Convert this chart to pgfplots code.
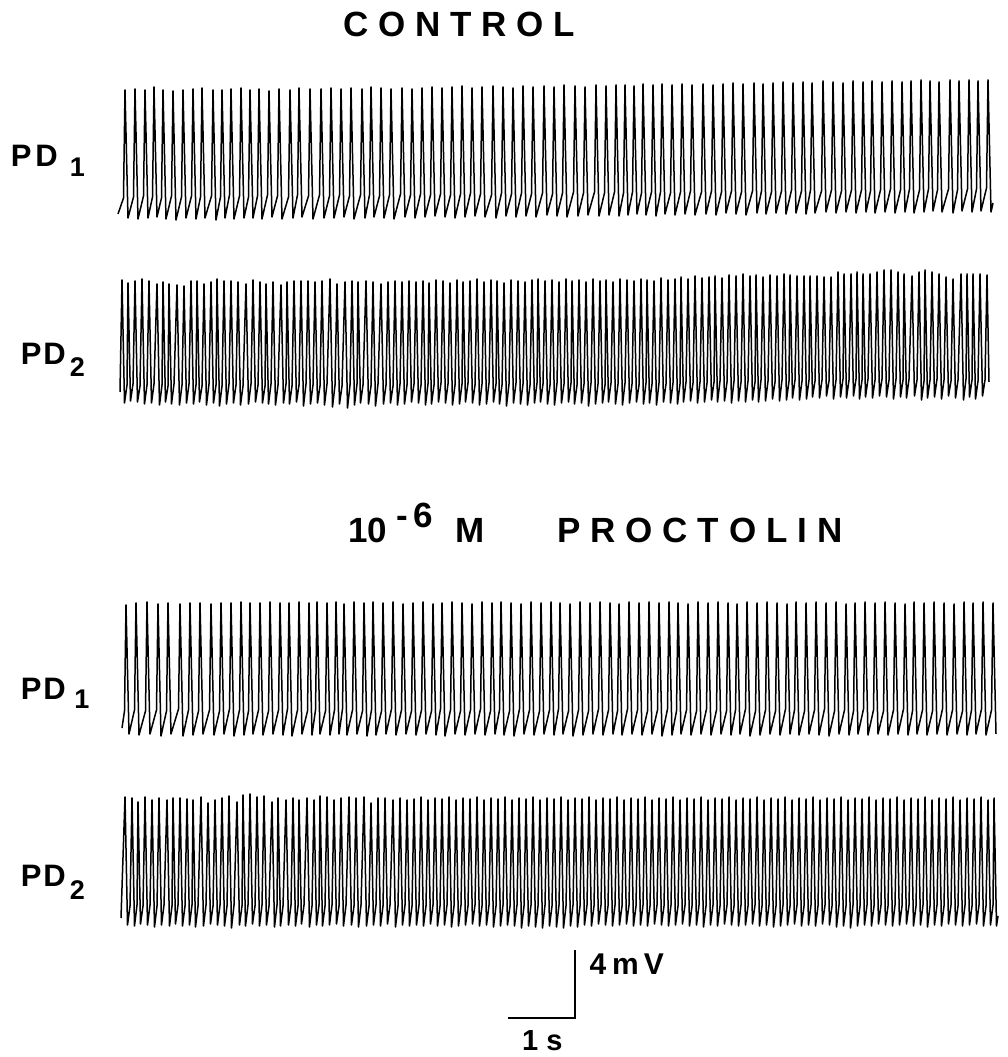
\documentclass[border=0pt]{standalone}
\usepackage{fontspec}
\setmainfont{Liberation Sans}
\usepackage{pgfplots}
\pgfplotsset{compat=1.18}

\newcommand{\lab}{\bfseries}
\newcommand{\lbl}{\lab\fontsize{35}{40}\selectfont}
\newcommand{\ls}{\hspace{9.8pt}}
\newcommand{\lp}{\hspace{9.9pt}}
% #1 subscript, #2 gap P-D, #3 gap D-subscript, #4 drop of subscript
\newcommand{\pdlabel}[4]{\lab\fontsize{31}{36}\selectfont P\hspace{#2}D\hspace{#3}\raisebox{-#4}{\fontsize{27}{30}\selectfont #1}}

\pgfplotsset{trace/.style={black, line width=1.5pt, line join=round, mark=none}}

\begin{document}
\begin{tikzpicture}
\begin{axis}[
    x=1pt, y=1pt,
    xmin=0, xmax=1007, ymin=0, ymax=1057,
    enlargelimits=false,
    hide axis, clip=false, scale only axis,
]
\path (axis cs:0,0) rectangle (axis cs:1007,1057);

% control, PD1  (x in px, y in px above trough level)
\addplot[trace, y filter/.expression={y+840}] coordinates {
(118,3)
(123.5,19)(125,127)(128,-1) (133.5,20)(135,128)(138,-2) (143.5,21)(145,127)(148,-1)
(152.5,20)(154,130)(157,0) (161.5,19)(163,127)(166,-2) (171.5,21)(173,126)(176,-3)
(181.5,20)(183,127)(186,-1) (191.5,21)(193,128)(196,-2) (200.5,20)(202,129)(205,-1)
(211.5,21)(213,127)(216,-3) (220.5,20)(222,127)(225,-1) (229.5,22)(231,128)(234,-2)
(239.5,21)(241,129)(244,-1) (248.5,20)(250,127)(253,-1) (257.5,21)(259,128)(262,-2)
(267.5,22)(269,126)(272,0) (277.5,21)(279,128)(282,-2) (288.5,20)(290,127)(293,-1)
(297.5,22)(299,129)(302,0) (308.5,21)(310,128)(313,-2) (319.5,22)(321,128)(324,-1)
(329.5,21)(331,129)(334,-1) (339.5,22)(341,128)(344,0) (349.5,21)(351,129)(354,-2)
(360.5,22)(362,128)(365,-1) (369.5,22)(371,130)(374,0) (379.5,21)(381,129)(384,-1)
(389.5,22)(391,128)(394,-2) (400.5,23)(402,129)(405,0) (410.5,22)(412,128)(415,-1)
(420.5,23)(422,129)(425,0) (430.5,22)(432,130)(435,1) (440.5,23)(442,129)(445,0)
(450.5,22)(452,130)(455,-1) (460.5,23)(462,131)(465,0) (470.5,24)(472,129)(475,1)
(480.5,23)(482,130)(485,0) (491.5,22)(493,131)(496,-1) (501.5,24)(503,130)(506,1)
(511.5,23)(513,129)(516,0) (521.5,24)(523,131)(526,1) (531.5,23)(533,130)(536,0)
(542.5,24)(544,131)(547,2) (552.5,23)(554,130)(557,1) (562.5,24)(564,132)(567,0)
(573.5,25)(575,131)(578,1) (583.5,24)(585,130)(588,2) (594.5,25)(596,132)(599,1)
(604.5,24)(606,131)(609,2) (614.5,25)(616,132)(619,1) (623.5,24)(625,132)(628,2)
(632.5,25)(634,131)(637,3) (641.5,24)(643,133)(646,2) (651.5,25)(653,132)(656,1)
(660.5,25)(662,133)(665,3) (670.5,24)(672,132)(675,2) (680.5,25)(682,133)(685,3)
(690.5,26)(692,132)(695,2) (701.5,25)(703,133)(706,3) (711.5,26)(713,132)(716,2)
(721.5,25)(723,133)(726,4) (731.5,26)(733,134)(736,3) (741.5,25)(743,133)(746,2)
(752.5,26)(754,134)(757,4) (761.5,26)(763,133)(766,3) (771.5,25)(773,134)(776,4)
(781.5,26)(783,135)(786,3) (791.5,27)(793,134)(796,4) (801.5,26)(803,135)(806,3)
(810.5,27)(812,134)(815,4) (821.5,26)(823,136)(826,5) (831.5,27)(833,135)(836,4)
(841.5,26)(843,134)(846,5) (851.5,27)(853,136)(856,4) (861.5,27)(863,135)(866,5)
(870.5,26)(872,136)(875,4) (880.5,27)(882,135)(885,5) (890.5,28)(892,136)(895,4)
(900.5,27)(902,135)(905,5) (909.5,28)(911,136)(914,4) (919.5,27)(921,137)(924,5)
(928.5,28)(930,136)(933,6) (937.5,27)(939,135)(942,5) (948.5,28)(950,137)(953,4)
(957.5,27)(959,136)(962,6) (967.5,28)(969,137)(972,5) (976.5,28)(978,136)(981,6)
(986.5,29)(988,137)(991,5) (993,14)
};

% control, PD2
\addplot[trace, y filter/.expression={y+655}] coordinates {
(120,10)
(122,122)(124.5,-1)(127,17) (128,119)(130.5,1)(133,18) (135,121)(137.5,0)(140,16)
(142,123)(144.5,-2)(147,17) (149,121)(151.5,-1)(154,18) (157,118)(159.5,-3)(162,17)
(163,120)(165.5,0)(168,16) (169,118)(171.5,-2)(174,18) (177,117)(179.5,-3)(182,17)
(184,116)(186.5,-1)(189,18) (191,121)(193.5,-2)(196,17) (197,121)(199.5,0)(202,16)
(204,118)(206.5,-3)(209,18) (211,120)(213.5,-1)(216,17) (217,123)(219.5,-4)(222,16)
(224,121)(226.5,-2)(229,18) (231,121)(233.5,-1)(236,17) (238,120)(240.5,-3)(243,16)
(246,118)(248.5,-2)(251,18) (253,122)(255.5,0)(258,17) (260,120)(262.5,-1)(265,16)
(266,118)(268.5,-2)(271,18) (273,120)(275.5,-3)(278,17) (281,117)(283.5,-1)(286,18)
(287,120)(289.5,-2)(292,16) (294,121)(296.5,0)(299,17) (301,121)(303.5,-4)(306,18)
(308,121)(310.5,-2)(313,17) (315,120)(317.5,-1)(320,16) (322,121)(324.5,-3)(327,18)
(330,123)(332.5,-5)(335,17) (337,118)(339.5,-2)(342,16) (345,120)(347.5,-6)(350,17)
(352,121)(354.5,-3)(357,18) (358,120)(360.5,-1)(363,17) (366,121)(368.5,-2)(371,16)
(373,120)(375.5,-4)(378,18) (381,118)(383.5,-2)(386,17) (388,120)(390.5,-1)(393,16)
(395,121)(397.5,-3)(400,18) (402,120)(404.5,-2)(407,17) (409,121)(411.5,0)(414,18)
(416,120)(418.5,-1)(421,17) (423,121)(425.5,-3)(428,18) (429,119)(431.5,-2)(434,17)
(436,122)(438.5,0)(441,19) (443,121)(445.5,-1)(448,18) (450,119)(452.5,-3)(455,17)
(457,122)(459.5,-2)(462,18) (463,120)(465.5,0)(468,19) (470,121)(472.5,-1)(475,17)
(477,123)(479.5,-3)(482,18) (484,120)(486.5,-2)(489,19) (491,122)(493.5,0)(496,18)
(497,121)(499.5,-2)(502,17) (504,119)(506.5,-4)(509,18) (511,122)(513.5,-1)(516,19)
(518,121)(520.5,-2)(523,18) (525,120)(527.5,-3)(530,17) (532,122)(534.5,-1)(537,19)
(538,123)(540.5,0)(543,18) (545,121)(547.5,-2)(550,17) (552,122)(554.5,-3)(557,19)
(559,120)(561.5,-1)(564,18) (566,123)(568.5,0)(571,19) (572,121)(574.5,-2)(577,17)
(579,122)(581.5,-1)(584,18) (586,120)(588.5,-4)(591,19) (593,123)(595.5,-2)(598,18)
(600,121)(602.5,-1)(605,17) (606,122)(608.5,0)(611,19) (613,120)(615.5,-2)(618,18)
(620,123)(622.5,-3)(625,19) (627,122)(629.5,-1)(632,18) (634,121)(636.5,0)(639,17)
(641,123)(643.5,-2)(646,19) (647,122)(649.5,-1)(652,18) (654,121)(656.5,-3)(659,19)
(661,124)(663.5,0)(666,18) (668,122)(670.5,-1)(673,19) (675,123)(677.5,-2)(680,18)
(681,125)(683.5,0)(686,20) (688,123)(690.5,1)(693,19) (695,126)(697.5,-1)(700,20)
(702,124)(704.5,0)(707,19) (709,125)(711.5,2)(714,20) (715,126)(717.5,0)(720,21)
(722,124)(724.5,1)(727,20) (729,127)(731.5,-1)(734,21) (736,126)(738.5,1)(741,20)
(743,128)(745.5,0)(748,21) (750,126)(752.5,2)(755,20) (756,127)(758.5,0)(761,22)
(763,125)(765.5,1)(768,21) (770,127)(772.5,3)(775,20) (777,126)(779.5,1)(782,22)
(784,128)(786.5,2)(789,21) (790,127)(792.5,4)(795,22) (797,126)(799.5,2)(802,21)
(804,126)(806.5,3)(809,22) (810,126)(812.5,5)(815,21) (817,126)(819.5,4)(822,22)
(824,125)(826.5,6)(829,21) (831,125)(833.5,3)(836,22) (838,130)(840.5,5)(843,23)
(844,128)(846.5,4)(849,22) (851,128)(853.5,6)(856,23) (857,130)(859.5,3)(862,22)
(863,128)(865.5,5)(868,23) (870,128)(872.5,4)(875,22) (877,130)(879.5,6)(882,23)
(884,132)(886.5,5)(889,22) (891,132)(893.5,3)(896,23) (898,130)(900.5,5)(903,22)
(904,128)(906.5,4)(909,23) (912,126)(914.5,6)(917,22) (919,130)(921.5,2)(924,21)
(925,132)(927.5,4)(930,22) (932,130)(934.5,5)(937,23) (939,128)(941.5,3)(944,22)
(946,125)(948.5,6)(951,21) (953,123)(955.5,4)(958,22) (961,128)(963.5,2)(966,23)
(967,128)(969.5,5)(972,22) (973,128)(975.5,3)(978,21) (980,128)(982.5,6)(985,22)
(987,127)(989,20)
};

% proctolin, PD1
\addplot[trace, y filter/.expression={y+324}] coordinates {
(122,5)
(124.5,22)(126,128)(129,-1) (134.5,23)(136,130)(139,-2) (145.5,22)(147,131)(150,-1)
(156.5,23)(158,129)(161,-3) (166.5,22)(168,130)(171,-1) (178.5,24)(180,129)(183,-3)
(188.5,23)(190,130)(193,-2) (198.5,22)(200,130)(203,-1) (209.5,23)(211,129)(214,-2)
(219.5,22)(221,130)(224,-1) (229.5,24)(231,130)(234,-3) (239.5,23)(241,131)(244,-2)
(248.5,22)(250,130)(253,-1) (258.5,23)(260,130)(263,-2) (268.5,22)(270,131)(273,-1)
(278.5,23)(280,130)(283,-2) (287.5,24)(289,130)(292,-3) (297.5,23)(299,131)(302,-1)
(307.5,22)(309,130)(312,-2) (315.5,23)(317,131)(320,-1) (325.5,22)(327,130)(330,-2)
(334.5,23)(336,131)(339,-1) (342.5,24)(344,129)(347,-2) (352.5,23)(354,131)(357,-1)
(362.5,22)(364,130)(367,-3) (371.5,23)(373,131)(376,-2) (381.5,22)(383,130)(386,-1)
(391.5,24)(393,131)(396,-2) (401.5,23)(403,129)(406,-1) (411.5,22)(413,130)(416,-2)
(421.5,23)(423,131)(426,-1) (431.5,22)(433,129)(436,-2) (440.5,24)(442,130)(445,-3)
(450.5,23)(452,131)(455,-1) (460.5,22)(462,130)(465,-2) (470.5,23)(472,129)(475,-1)
(480.5,24)(482,131)(485,-2) (490.5,22)(492,130)(495,-1) (499.5,23)(501,131)(504,-2)
(509.5,22)(511,130)(514,-3) (519.5,24)(521,129)(524,-1) (529.5,23)(531,131)(534,-2)
(539.5,22)(541,130)(544,-1) (549.5,23)(551,131)(554,-2) (558.5,24)(560,130)(563,-1)
(568.5,22)(570,129)(573,-3) (578.5,23)(580,131)(583,-2) (588.5,22)(590,130)(593,-1)
(598.5,24)(600,131)(603,-2) (608.5,23)(610,130)(613,-1) (617.5,22)(619,129)(622,-2)
(627.5,24)(629,131)(632,-1) (637.5,23)(639,130)(642,-2) (647.5,22)(649,131)(652,-1)
(657.5,23)(659,130)(662,-3) (667.5,24)(669,131)(672,-2) (676.5,22)(678,130)(681,-1)
(686.5,23)(688,129)(691,-2) (696.5,22)(698,131)(701,-1) (706.5,24)(708,130)(711,-2)
(716.5,23)(718,131)(721,-1) (726.5,22)(728,130)(731,-2) (735.5,23)(737,129)(740,-1)
(745.5,24)(747,131)(750,-3) (755.5,22)(757,130)(760,-2) (765.5,23)(767,131)(770,-1)
(775.5,22)(777,130)(780,-2) (785.5,24)(787,129)(790,-1) (794.5,23)(796,131)(799,-2)
(804.5,22)(806,130)(809,-1) (814.5,23)(816,131)(819,-2) (824.5,24)(826,130)(829,-3)
(834.5,22)(836,131)(839,-1) (844.5,23)(846,129)(849,-2) (853.5,22)(855,130)(858,-1)
(863.5,24)(865,131)(868,-2) (873.5,23)(875,130)(878,-1) (883.5,22)(885,131)(888,-2)
(893.5,23)(895,130)(898,-1) (903.5,24)(905,129)(908,-2) (912.5,22)(914,131)(917,-1)
(922.5,23)(924,130)(927,-2) (932.5,22)(934,131)(937,-1) (942.5,24)(944,130)(947,-2)
(952.5,23)(954,129)(957,-1) (962.5,22)(964,131)(967,-2) (971.5,23)(973,130)(976,-1)
(981.5,24)(983,131)(986,-2) (991.5,23)(993,130)(996,-1)
};

% proctolin, PD2
\addplot[trace, y filter/.expression={y+133}] coordinates {
(121,6)
(125,127)(127.5,-1)(130,18) (132,126)(134.5,-2)(137,19) (138,122)(140.5,0)(143,18)
(145,127)(147.5,-1)(150,19) (152,124)(154.5,-3)(157,18) (159,126)(161.5,-1)(164,19)
(167,124)(169.5,-2)(172,18) (173,126)(175.5,0)(178,19) (180,126)(182.5,-2)(185,18)
(187,125)(189.5,-1)(192,19) (193,124)(195.5,-3)(198,18) (201,127)(203.5,-2)(206,19)
(208,121)(210.5,0)(213,18) (215,124)(217.5,-1)(220,19) (222,126)(224.5,-2)(227,18)
(229,128)(231.5,-4)(234,19) (237,122)(239.5,-1)(242,18) (243,129)(245.5,-2)(248,19)
(250,130)(252.5,0)(255,18) (257,127)(259.5,-2)(262,19) (264,128)(266.5,-1)(269,18)
(272,122)(274.5,-3)(277,19) (278,126)(280.5,-2)(283,18) (286,124)(288.5,-1)(291,19)
(293,126)(295.5,-2)(298,18) (299,124)(301.5,0)(304,19) (307,126)(309.5,-3)(312,18)
(314,124)(316.5,-1)(319,19) (320,128)(322.5,-2)(325,18) (327,127)(329.5,-1)(332,19)
(334,124)(336.5,0)(339,18) (341,126)(343.5,-2)(346,19) (349,127)(351.5,-1)(354,18)
(356,126)(358.5,-3)(361,19) (364,127)(366.5,-2)(369,18) (371,121)(373.5,-1)(376,19)
(378,126)(380.5,-2)(383,18) (385,126)(387.5,0)(390,19) (393,124)(395.5,-3)(398,18)
(400,126)(402.5,-1)(405,19) (407,124)(409.5,-2)(412,18) (414,125)(416.5,-1)(419,19)
(421,127)(423.5,-2)(426,18) (428,124)(430.5,0)(433,19) (435,126)(437.5,-2)(440,18)
(442,125)(444.5,-1)(447,19) (449,127)(451.5,-3)(454,18) (456,124)(458.5,-2)(461,19)
(463,126)(465.5,-1)(468,18) (470,125)(472.5,0)(475,19) (477,127)(479.5,-2)(482,18)
(484,124)(486.5,-1)(489,19) (491,126)(493.5,-3)(496,18) (498,125)(500.5,-2)(503,19)
(505,127)(507.5,-1)(510,18) (512,124)(514.5,-2)(517,19) (519,126)(521.5,-4)(524,18)
(526,125)(528.5,-2)(531,19) (533,127)(535.5,-3)(538,18) (540,124)(542.5,-4)(545,19)
(547,126)(549.5,-2)(552,18) (554,125)(556.5,-3)(559,19) (561,127)(563.5,-4)(566,18)
(568,124)(570.5,-2)(573,19) (575,126)(577.5,-3)(580,18) (582,125)(584.5,-1)(587,19)
(589,127)(591.5,-2)(594,18) (596,124)(598.5,0)(601,19) (603,126)(605.5,-1)(608,18)
(610,125)(612.5,-2)(615,19) (617,127)(619.5,-1)(622,18) (624,124)(626.5,0)(629,19)
(631,126)(633.5,-2)(636,18) (638,125)(640.5,-1)(643,19) (645,127)(647.5,-2)(650,18)
(652,124)(654.5,0)(657,19) (659,126)(661.5,-1)(664,18) (666,125)(668.5,-2)(671,19)
(673,127)(675.5,-1)(678,18) (680,124)(682.5,0)(685,19) (687,126)(689.5,-2)(692,18)
(694,125)(696.5,-1)(699,19) (701,127)(703.5,-3)(706,18) (708,124)(710.5,-1)(713,19)
(715,126)(717.5,-2)(720,18) (722,125)(724.5,0)(727,19) (729,127)(731.5,-1)(734,18)
(736,124)(738.5,-2)(741,19) (743,126)(745.5,-1)(748,18) (750,125)(752.5,0)(755,19)
(757,127)(759.5,-2)(762,18) (764,124)(766.5,-1)(769,19) (771,126)(773.5,-3)(776,18)
(778,125)(780.5,-2)(783,19) (785,127)(787.5,-1)(790,18) (792,124)(794.5,0)(797,19)
(799,126)(801.5,-2)(804,18) (806,125)(808.5,-1)(811,19) (813,127)(815.5,-2)(818,18)
(820,124)(822.5,0)(825,19) (827,126)(829.5,-1)(832,18) (834,125)(836.5,-3)(839,19)
(841,127)(843.5,-2)(846,18) (848,124)(850.5,-4)(853,19) (855,126)(857.5,-2)(860,18)
(862,125)(864.5,-1)(867,19) (869,127)(871.5,-2)(874,18) (876,124)(878.5,0)(881,19)
(883,126)(885.5,-1)(888,18) (890,125)(892.5,-2)(895,19) (897,127)(899.5,-1)(902,18)
(904,124)(906.5,0)(909,19) (911,126)(913.5,-2)(916,18) (918,125)(920.5,-1)(923,19)
(925,127)(927.5,-3)(930,18) (932,124)(934.5,-1)(937,19) (939,126)(941.5,-2)(944,18)
(946,125)(948.5,0)(951,19) (953,127)(955.5,-1)(958,18) (960,124)(962.5,-2)(965,19)
(967,126)(969.5,-1)(972,18) (974,125)(976.5,0)(979,19) (981,127)(983.5,-2)(986,18)
(988,124)(990.5,-1)(993,19) (994,126)(996.5,-2)(998,8)
};

% calibration: 1 s (68 px) and 4 mV (68 px)
\addplot[black, line width=2.4pt, mark=none] coordinates {(508,39)(575,39)(575,107)};

% labels
\node[anchor=base west, inner sep=0pt, font=\lbl] at (axis cs:343,1020) {C\ls O\ls N\ls T\ls R\ls O\ls L};
\node[anchor=base west, inner sep=0pt, font=\lbl] at (axis cs:348.2,514) {10\hspace{9.4pt}\raisebox{15pt}{-\hspace{5.4pt}6}\hspace{22.5pt}M};
\node[anchor=base west, inner sep=0pt, font=\lbl] at (axis cs:557,514) {P\lp R\lp O\lp C\lp T\lp O\lp L\lp I\lp N};
\node[anchor=base west, inner sep=0pt] at (axis cs:10.6,890) {\pdlabel{1}{4pt}{12pt}{10pt}};
\node[anchor=base west, inner sep=0pt] at (axis cs:20.6,692) {\pdlabel{2}{2pt}{4pt}{12pt}};
\node[anchor=base west, inner sep=0pt] at (axis cs:20.6,357) {\pdlabel{1}{2pt}{8.5pt}{9pt}};
\node[anchor=base west, inner sep=0pt] at (axis cs:20.6,170) {\pdlabel{2}{2pt}{4pt}{13pt}};
\node[anchor=base west, inner sep=0pt, font=\lab\fontsize{30}{34}\selectfont] at (axis cs:589.3,82) {4\hspace{6pt}m\hspace{5pt}V};
\node[anchor=base west, inner sep=0pt, font=\lab\fontsize{29}{33}\selectfont] at (axis cs:522,6) {1\hspace{8pt}s};
\end{axis}
\end{tikzpicture}
\end{document}
